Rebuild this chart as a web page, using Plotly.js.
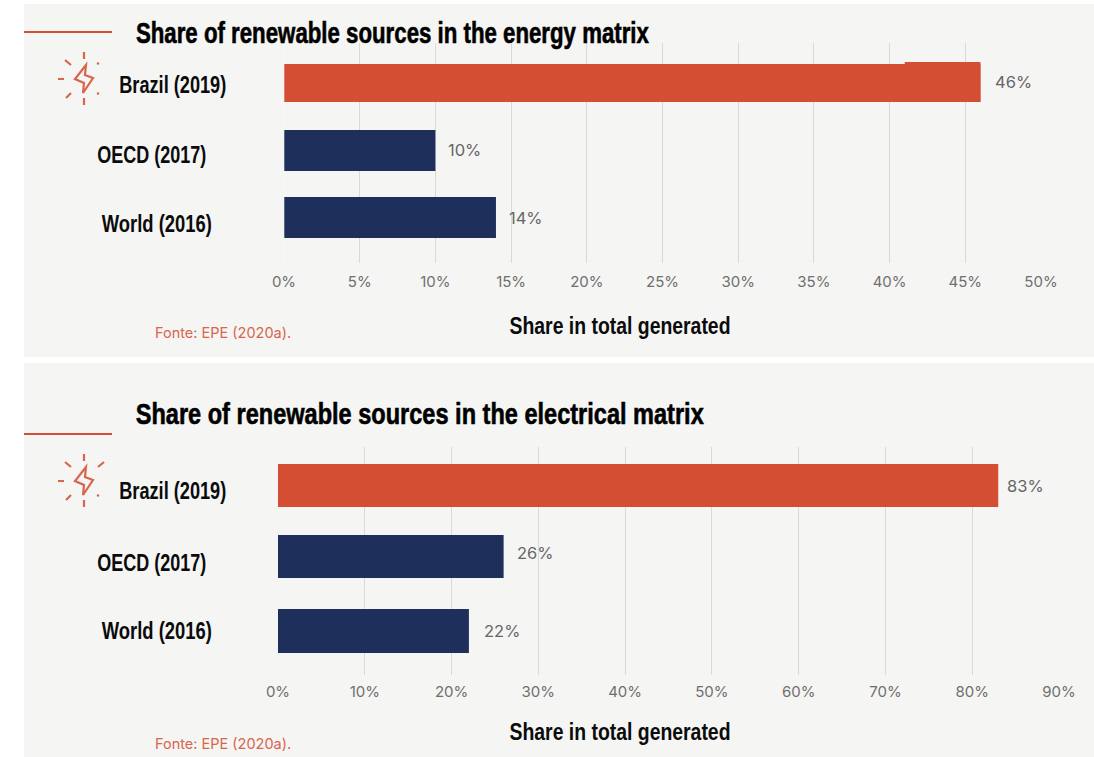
<!DOCTYPE html>
<html>
<head>
<meta charset="utf-8">
<script src="https://cdn.plot.ly/plotly-3.0.1.min.js"></script>
<style>html,body{margin:0;padding:0;background:#fff}#chart{width:1094px;height:757px}</style>
</head>
<body>
<div id="chart"></div>
<script>
// Values
const categories = ['Brazil (2019)', 'OECD (2017)', 'World (2016)'];
const energyShare = [46, 10, 14];
const electricShare = [83, 26, 22];
const energyTicks = [0, 5, 10, 15, 20, 25, 30, 35, 40, 45, 50];
const electricTicks = [0, 10, 20, 30, 40, 50, 60, 70, 80, 90];
const energyTitle = 'Share of renewable sources in the energy matrix';
const electricTitle = 'Share of renewable sources in the electrical matrix';
const axisCaption = 'Share in total generated';
const sourceNote = 'Fonte: EPE (2020a).';
const barStepStart = 41;

// Page geometry and styling
const W = 1094, H = 757;
const ORANGE = '#d34e33', NAVY = '#1f2f5b', PANEL = '#f5f5f4', GRID = '#d9d9d9', TICK = '#6f6f6f';
const HEAD_FONT = '"Liberation Sans", sans-serif';
const BODY_FONT = 'Inter, "Open Sans", sans-serif';
const px = x => x / W;
const py = y => 1 - y / H;
const colors = [ORANGE, NAVY, NAVY];

function bars(values, xa, ya, widths, nudges, stepH) {
  return {
    type: 'bar', orientation: 'h', x: values, y: categories, xaxis: xa, yaxis: ya,
    width: widths.map(w => w / stepH),
    offset: widths.map((w, i) => (nudges[i] - w / 2) / stepH),
    marker: {color: colors, line: {width: 0}},
    hoverinfo: 'skip', showlegend: false
  };
}

function axisX(left, right, ticks, anchor, standoff) {
  return {
    domain: [px(left), px(right)], range: [ticks[0], ticks[ticks.length - 1]],
    tickmode: 'array', tickvals: ticks, ticktext: ticks.map(t => t + '%'),
    showgrid: true, gridcolor: GRID, gridwidth: 1, zeroline: false, showline: false,
    ticks: 'outside', ticklen: standoff, tickcolor: 'rgba(0,0,0,0)',
    tickfont: {family: BODY_FONT, size: 15, color: TICK},
    anchor: anchor, fixedrange: true
  };
}

function axisY(top, bottom, firstCentre, stepH, anchor) {
  return {
    domain: [py(bottom), py(top)],
    type: 'category', categoryorder: 'array', categoryarray: categories,
    range: [2 + (bottom - (firstCentre + 2 * stepH)) / stepH, -(firstCentre - top) / stepH],
    showticklabels: false, showgrid: false, zeroline: false, showline: false, ticks: '',
    anchor: anchor, fixedrange: true
  };
}

// Lightning icon with its rays, traced in page pixels
function iconPath(dy, rightRayTop) {
  const seg = (a, b, c, d) => `M${px(a)},${py(b + dy)}L${px(c)},${py(d + dy)}`;
  const bolt = [[86, 65], [75, 79], [84, 83], [83, 93], [93, 78], [85, 75]]
    .map((p, i) => (i ? 'L' : 'M') + px(p[0]) + ',' + py(p[1] + dy)).join('') + 'Z';
  return [
    bolt,
    seg(84, 52, 84, 59), seg(65, 60, 71, 65), seg(58, 79, 64, 79),
    seg(66, 98, 71, 93), seg(84, 98, 84, 105),
    rightRayTop, seg(97, 93, 99, 94)
  ].join('');
}

function panelShapes(top, bottom, ruleY, iconDy, rightRay) {
  return [
    {type: 'rect', layer: 'below', xref: 'paper', yref: 'paper', x0: px(24), x1: 1, y0: py(bottom), y1: py(top),
     fillcolor: PANEL, line: {width: 0}},
    {type: 'line', xref: 'paper', yref: 'paper', x0: px(24), x1: px(112), y0: py(ruleY), y1: py(ruleY),
     line: {color: ORANGE, width: 2}},
    {type: 'path', xref: 'paper', yref: 'paper', path: iconPath(iconDy, rightRay),
     line: {color: '#d8654c', width: 2.2}, fillcolor: 'rgba(0,0,0,0)'}
  ];
}

const note = (text, x, y, font, anchor) => ({
  text: text, xref: 'paper', yref: 'paper', x: px(x), y: py(y), xanchor: anchor || 'left', yanchor: 'middle',
  showarrow: false, font: font
});
const headFont = {family: HEAD_FONT, size: 29, color: '#000', weight: 700};
const labelFont = {family: HEAD_FONT, size: 23, color: '#0b0b0b', weight: 700};
const sourceFont = {family: BODY_FONT, size: 14.5, color: '#d8654c'};
const valueFont = {family: BODY_FONT, size: 16.5, color: '#666'};

const valueNote = (v, xa, ya, cat, shift, lift) => ({
  text: v + '%', x: v, y: cat, xref: xa, yref: ya, xanchor: 'left', yanchor: 'middle',
  xshift: shift, yshift: lift, showarrow: false, font: valueFont
});

const energyBars = bars(energyShare, 'x', 'y', [38, 41, 41], [0, 0.5, 0.5], 67);
// Raised end section of the first bar
const energyStep = {
  type: 'bar', orientation: 'h', x: [energyShare[0] - barStepStart], base: [barStepStart], y: [categories[0]],
  xaxis: 'x', yaxis: 'y', width: [40 / 67], offset: [-21 / 67],
  marker: {color: ORANGE, line: {width: 0}}, hoverinfo: 'skip', showlegend: false
};
const electricBars = bars(electricShare, 'x2', 'y2', [43, 43, 44], [0, -1.75, 0], 72.75);

const labelCentres = [[[172.5, 85], [151.5, 155], [157, 224]], [[172.5, 491], [151.5, 563], [157, 631]]];
const labelWidths = [107, 109, 110];

// Narrow headline text: [annotation, target width in px, extra stroke]
const headings = [
  [note(energyTitle, 392.5, 33, headFont, 'center'), 513, 0.6],
  [note(electricTitle, 420, 414, headFont, 'center'), 568, 0.6],
  [note(axisCaption, 620, 326, labelFont, 'center'), 221, 0],
  [note(axisCaption, 620, 732, labelFont, 'center'), 221, 0],
  ...categories.map((c, i) => [note(c, labelCentres[0][i][0], labelCentres[0][i][1], labelFont, 'center'), labelWidths[i], 0]),
  ...categories.map((c, i) => [note(c, labelCentres[1][i][0], labelCentres[1][i][1], labelFont, 'center'), labelWidths[i], 0])
];

const layout = {
  width: W, height: H, margin: {l: 0, r: 0, t: 0, b: 0},
  paper_bgcolor: '#fff', plot_bgcolor: 'rgba(0,0,0,0)', barmode: 'overlay',
  xaxis: axisX(284, 1041, energyTicks, 'y', 5),
  yaxis: axisY(43, 263, 83, 67, 'x'),
  xaxis2: axisX(278, 1059, electricTicks, 'y2', 3),
  yaxis2: axisY(447, 675, 485.5, 72.75, 'x2'),
  shapes: [
    ...panelShapes(4, 357, 32, 0, `M${px(97)},${py(64)}L${px(99)},${py(63)}`),
    ...panelShapes(363, 757, 434, 402, `M${px(98)},${py(467)}L${px(104)},${py(462)}`),
    {type: 'line', xref: 'x', yref: 'y domain', x0: 0, x1: 0, y0: 0, y1: 1, layer: 'above',
     line: {color: 'rgba(255,255,255,0.55)', width: 1}}
  ],
  annotations: [
    ...headings.map(h => h[0]),
    note(sourceNote, 153, 332, sourceFont),
    note(sourceNote, 153, 743, sourceFont),
    valueNote(energyShare[0], 'x', 'y', categories[0], 13, 1),
    valueNote(energyShare[1], 'x', 'y', categories[1], 11, 0),
    valueNote(energyShare[2], 'x', 'y', categories[2], 11, -1),
    valueNote(electricShare[0], 'x2', 'y2', categories[0], 7, 0),
    valueNote(electricShare[1], 'x2', 'y2', categories[1], 11, 5),
    valueNote(electricShare[2], 'x2', 'y2', categories[2], 13, 0)
  ]
};

Plotly.newPlot('chart', [energyBars, energyStep, electricBars], layout, {displayModeBar: false, staticPlot: true})
  .then(gd => {
    // Squeeze the headline text to its condensed set width
    headings.forEach((h, i) => {
      const t = gd.querySelector(`.annotation[data-index="${i}"] text`);
      if (t) {
        t.setAttribute('textLength', h[1]);
        t.setAttribute('lengthAdjust', 'spacingAndGlyphs');
        if (h[2]) {
          t.style.stroke = '#000';
          t.style.strokeWidth = h[2] + 'px';
        }
      }
    });
  });
</script>
</body>
</html>
